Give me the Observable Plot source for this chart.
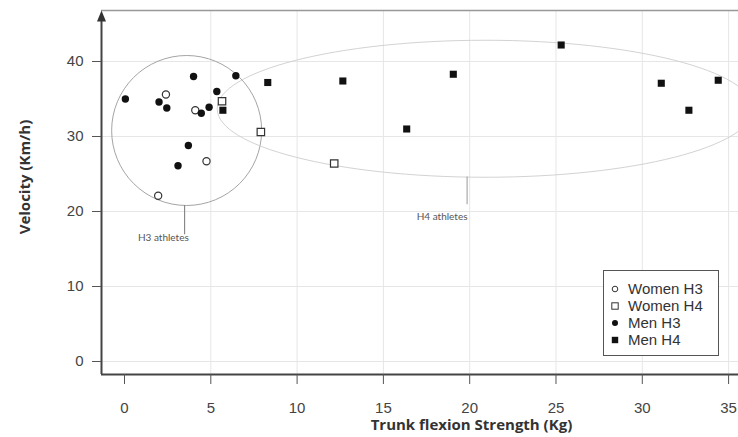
<!DOCTYPE html>
<html>
<head>
<meta charset="utf-8">
<script src="https://cdn.jsdelivr.net/npm/d3@7"></script>
<script src="https://cdn.jsdelivr.net/npm/@observablehq/plot@0.6"></script>
<style>
  html, body { margin: 0; padding: 0; background: #fff; }
  #wrap { position: relative; width: 738px; height: 437px; }
  #legend { position: absolute; left: 603px; top: 270px; width: 116px; height: 86px;
    border: 1px solid #555; background: #fff; font-family: "Liberation Sans", Arial, sans-serif;
    font-size: 15px; color: #333; box-sizing: border-box; padding-top: 9px; }
  #legend .row { height: 17px; line-height: 17px; display: flex; align-items: center; }
  #legend svg { margin-left: 6px; margin-right: 8px; }
</style>
</head>
<body>
<div id="wrap"></div>
<script>
// Data: [trunk flexion strength (kg), velocity (km/h)]
const womenH3 = [[2.4, 35.6], [4.1, 33.5], [4.75, 26.7], [1.95, 22.1]];
const womenH4 = [[5.65, 34.7], [7.9, 30.6], [12.15, 26.4]];
const menH3 = [[0.05, 35.0], [2.0, 34.6], [2.45, 33.8], [4.0, 38.0], [6.45, 38.1],
               [5.35, 36.0], [4.45, 33.1], [4.9, 33.9], [3.7, 28.8], [3.1, 26.1]];
const menH4 = [[5.7, 33.5], [8.3, 37.2], [12.65, 37.4], [16.35, 31.0], [19.05, 38.3],
               [25.3, 42.2], [31.1, 37.1], [34.4, 37.5], [32.7, 33.5]];
const xTicks = [0, 5, 10, 15, 20, 25, 30, 35];
const yTicks = [0, 10, 20, 30, 40];
const xDomain = [-1.333, 35.574];
const yDomain = [-1.733, 46.8];
// annotation groups: centres in data units
const h3Group = [{x: 3.6, y: 30.8, label: "H3 athletes", lx: 2.25, ly: 16.5, l1: 20.8, l2: 16.9, lxLine: 3.48}];
const h4Group = [{x: 20.9, y: 33.7, label: "H4 athletes", lx: 18.4, ly: 19.3, l1: 24.6, l2: 20.9, lxLine: 19.85}];
const axisTitles = [
  {text: "Trunk flexion Strength (Kg)", x: 20.1, y: -8.5, rotate: 0},
  {text: "Velocity (Km/h)", x: -5.75, y: 24.6, rotate: -90}
];
const legendItems = ["Women H3", "Women H4", "Men H3", "Men H4"];

const ellipse = (rx, ry) => ({
  draw(ctx) {
    const k = 0.5523;
    ctx.moveTo(rx, 0);
    ctx.bezierCurveTo(rx, ry * k, rx * k, ry, 0, ry);
    ctx.bezierCurveTo(-rx * k, ry, -rx, ry * k, -rx, 0);
    ctx.bezierCurveTo(-rx, -ry * k, -rx * k, -ry, 0, -ry);
    ctx.bezierCurveTo(rx * k, -ry, rx, -ry * k, rx, 0);
    ctx.closePath();
  }
});
const arrowHead = {
  draw(ctx) { ctx.moveTo(0, 0); ctx.lineTo(-4.5, 11); ctx.lineTo(4.5, 11); ctx.closePath(); }
};

const tickFont = {fontSize: 15, fill: "#444"};
const chart = Plot.plot({
  width: 738, height: 437,
  marginLeft: 101, marginRight: 0, marginTop: 10, marginBottom: 63,
  style: {fontFamily: "'Liberation Sans', Arial, sans-serif", background: "#fff"},
  x: {domain: xDomain},
  y: {domain: yDomain},
  marks: [
    Plot.gridX(xTicks.slice(1), {stroke: "#e6e6e6", strokeOpacity: 1}),
    Plot.gridY(yTicks, {stroke: "#e6e6e6", strokeOpacity: 1}),
    Plot.dot(h3Group, {x: "x", y: "y", r: 75, stroke: "#9a9a9a", strokeWidth: 0.9, fill: "none"}),
    Plot.dot(h4Group, {x: "x", y: "y", symbol: ellipse(268, 68.5), stroke: "#cdcdcd", strokeWidth: 0.9, fill: "none"}),
    Plot.ruleX(h3Group, {x: "lxLine", y1: "l1", y2: "l2", stroke: "#888", strokeWidth: 1.2}),
    Plot.ruleX(h4Group, {x: "lxLine", y1: "l1", y2: "l2", stroke: "#aaa", strokeWidth: 1.2}),
    Plot.text(h3Group, {x: "lx", y: "ly", text: "label", fontSize: 10, fill: "#555", fontFamily: "Lato, sans-serif"}),
    Plot.text(h4Group, {x: "lx", y: "ly", text: "label", fontSize: 10, fill: "#555", fontFamily: "Lato, sans-serif"}),
    // frame lines
    Plot.ruleY([yDomain[1]], {stroke: "#999", strokeWidth: 1.6}),
    Plot.ruleY([yDomain[0]], {stroke: "#444", strokeWidth: 2}),
    Plot.ruleX([xDomain[0]], {y1: yDomain[0], y2: 45.8, stroke: "#444", strokeWidth: 2}),
    Plot.dot([[xDomain[0], yDomain[1]]], {symbol: arrowHead, fill: "#333", stroke: "none"}),
    // axes
    Plot.axisX(xTicks, {tickSize: 10, tickPadding: 18, stroke: "#555", ...tickFont, label: null}),
    Plot.axisY(yTicks, {tickSize: 9, tickPadding: 9, stroke: "#555", ...tickFont, label: null}),
    Plot.text(axisTitles, {x: "x", y: "y", text: "text", rotate: "rotate", fontSize: 15, fontWeight: "bold", fill: "#333", fontFamily: "'Open Sans', sans-serif"}),
    // data
    Plot.dot(womenH4, {x: d => d[0], y: d => d[1], symbol: "square", r: 4.2, fill: "#fff", stroke: "#333", strokeWidth: 1.2}),
    Plot.dot(womenH3, {x: d => d[0], y: d => d[1], symbol: "circle", r: 3.6, fill: "#fff", stroke: "#333", strokeWidth: 1.2}),
    Plot.dot(menH3, {x: d => d[0], y: d => d[1], symbol: "circle", r: 3.7, fill: "#111", stroke: "none"}),
    Plot.dot(menH4, {x: d => d[0], y: d => d[1], symbol: "square", r: 4.0, fill: "#111", stroke: "none"})
  ]
});
const wrap = document.getElementById("wrap");
wrap.appendChild(chart);

// legend
const legend = document.createElement("div");
legend.id = "legend";
const sym = {
  "Women H3": '<circle cx="5" cy="5" r="2.8" fill="#fff" stroke="#333" stroke-width="1"/>',
  "Women H4": '<rect x="1.8" y="1.8" width="6.4" height="6.4" fill="#fff" stroke="#333" stroke-width="1"/>',
  "Men H3": '<circle cx="5" cy="5" r="3" fill="#111"/>',
  "Men H4": '<rect x="1.8" y="1.8" width="6.4" height="6.4" fill="#111"/>'
};
legendItems.forEach(name => {
  const row = document.createElement("div");
  row.className = "row";
  row.innerHTML = `<svg width="10" height="10">${sym[name]}</svg><span>${name}</span>`;
  legend.appendChild(row);
});
wrap.appendChild(legend);
</script>
</body>
</html>
